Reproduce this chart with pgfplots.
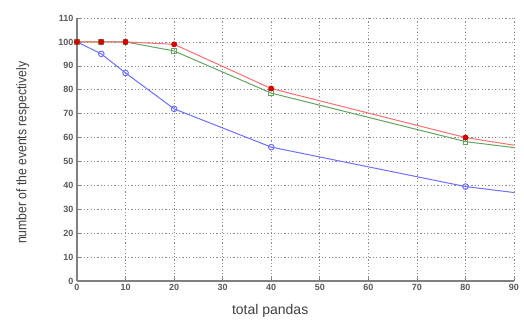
\documentclass[border=0pt]{standalone}
\usepackage{pgfplots}
\pgfplotsset{compat=1.18}
\usepackage{fontspec}
\setmainfont{Liberation Sans}
\definecolor{cblue}{RGB}{110,110,255}
\definecolor{cred}{RGB}{250,110,110}
\definecolor{cgreen}{RGB}{100,165,100}
\begin{document}
\begin{tikzpicture}
\useasboundingbox (-77pt,-40pt) rectangle (447pt,281pt);
\begin{axis}[
  scale only axis,
  width=437pt, height=263pt,
  xmin=0, xmax=90, ymin=0, ymax=110,
  xtick={0,10,...,90}, ytick={0,10,...,110},
  axis x line=bottom, axis y line=left,
  axis line style={-, line width=1.6pt, gray},
  tick style={gray, line width=0.6pt},
  major tick length=3pt,
  tick align=inside,
  grid=major,
  grid style={dash pattern=on 1.2pt off 2.2pt, gray!90, line width=0.6pt},
  /pgf/number format/assume math mode=true,
  ticklabel style={font=\fontsize{9}{9}\selectfont\bfseries, text=black!65},
  xlabel={total pandas},
  ylabel={\scalebox{0.87}[1]{number of the events respectively}},
  xlabel style={at={(axis description cs:0.442,0)}, anchor=north, yshift=-20pt, font=\fontsize{14}{14}\selectfont, text=black!75},
  ylabel style={at={(axis description cs:-0.124,0.487)}, anchor=center, font=\fontsize{14}{14}\selectfont, text=black!75},
  clip=true,
]
\addplot[cblue, line width=1pt, mark=o, mark size=2.8pt, mark indices={1,2,3,4,5,6}, mark options={solid, line width=1pt}]
  coordinates {(0,100) (5,95) (10,87) (20,72) (40,56) (80,39.5) (90,37)};
\addplot[cgreen, line width=1pt, mark=square, mark size=2.4pt, mark indices={1,2,3,4,5,6}, mark options={solid, line width=1pt}]
  coordinates {(0,100) (5,100) (10,100) (20,96.2) (40,78.6) (80,58.3) (90,55.8)};
\addplot[cred, line width=1pt, mark=*, mark size=2.4pt, mark indices={1,2,3,4,5,6}, mark options={solid, fill=red!85!black, draw=red!85!black}]
  coordinates {(0,100) (5,100) (10,100) (20,99) (40,80.5) (80,60) (90,56.8)};
\end{axis}
\end{tikzpicture}
\end{document}
